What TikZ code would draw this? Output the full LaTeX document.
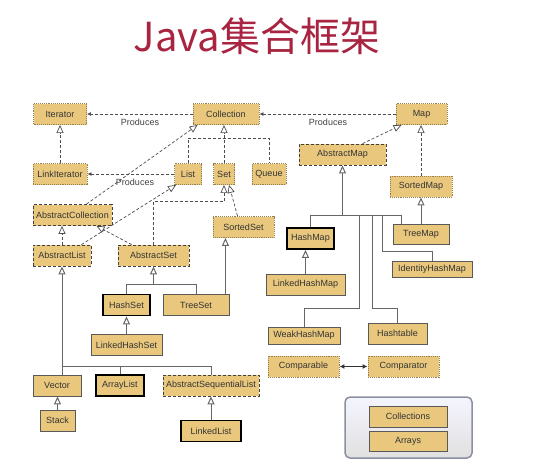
\documentclass[tikz,border=0pt]{standalone}
\usepackage{fontspec}
\setmainfont{Liberation Sans}
\newfontfamily\cjk{Noto Sans CJK SC}
\usetikzlibrary{arrows.meta,calc}
\definecolor{boxtan}{RGB}{233,200,125}
\definecolor{ifborder}{RGB}{150,128,80}
\definecolor{titlered}{RGB}{168,36,64}
\definecolor{utilborder}{RGB}{138,144,160}
\tikzset{
  box/.style={fill=boxtan, inner sep=0pt, font=\fontsize{9}{10}\selectfont, text=black!80, minimum height=21pt},
  iface/.style={box, draw=ifborder, densely dotted, line width=0.9pt},
  absbox/.style={box, draw=black!75, densely dashed, line width=0.8pt},
  conc/.style={box, draw=black!65, line width=0.9pt},
  strong/.style={box, draw=black, line width=1.8pt},
  dline/.style={draw=black!70, densely dashed, line width=0.7pt},
  sline/.style={draw=black!60, line width=1pt},
  inh/.style={-{Triangle[open,length=8pt,width=7pt]}},
  prod/.style={-{Latex[length=4pt,width=4pt]}},
  lbl/.style={font=\fontsize{9}{10}\selectfont, text=black!75, inner sep=0pt}
}
\begin{document}
\begin{tikzpicture}[x=1pt,y=-1pt]
\useasboundingbox (0,0) rectangle (533,475);
% title
\node[font=\cjk\fontsize{40}{44}\selectfont, text=titlered] (title) at (257,36) {Java集合框架};

% interfaces
\node[iface, minimum width=53pt] (Iterator) at (60,114) {Iterator};
\node[iface, minimum width=66pt] (Collection) at (226,114) {Collection};
\node[iface, minimum width=51pt] (Map) at (421.5,114) {Map};
\node[iface, minimum width=54pt] (LinkIterator) at (60,174) {LinkIterator};
\node[iface, minimum width=27pt] (List) at (188,174) {List};
\node[iface, minimum width=21pt] (Set) at (224,174) {Set};
\node[iface, minimum width=34pt] (Queue) at (269,174) {Queue};
\node[iface, minimum width=62pt] (SortedMap) at (421,186.5) {SortedMap};
\node[iface, minimum width=61pt] (SortedSet) at (243.5,227) {SortedSet};
\node[iface, minimum width=71pt] (Comparable) at (303.5,366.5) {Comparable};
\node[iface, minimum width=71pt] (Comparator) at (403.5,366.5) {Comparator};

% abstract classes
\node[absbox, minimum width=87pt] (AbstractMap) at (342.5,154.5) {AbstractMap};
\node[absbox, minimum width=79pt] (AbstractCollection) at (72.5,215) {AbstractCollection};
\node[absbox, minimum width=58pt] (AbstractList) at (62,255.5) {AbstractList};
\node[absbox, minimum width=71pt] (AbstractSet) at (153.5,255.5) {AbstractSet};
\node[absbox, minimum width=96pt] (AbstractSequentialList) at (211,385.5) {AbstractSequentialList};

% concrete classes
\node[strong, minimum width=47pt] (HashSet) at (126.5,305) {HashSet};
\node[conc, minimum width=66pt] (TreeSet) at (196,305) {TreeSet};
\node[conc, minimum width=71pt] (LinkedHashSet) at (126.5,345) {LinkedHashSet};
\node[conc, minimum width=48pt] (Vector) at (57,385.5) {Vector};
\node[strong, minimum width=48pt] (ArrayList) at (120,385.5) {ArrayList};
\node[conc, minimum width=35pt] (Stack) at (57.5,420.5) {Stack};
\node[strong, minimum width=60pt] (LinkedList) at (211,431) {LinkedList};
\node[strong, minimum width=47pt] (HashMap) at (310.5,238.5) {HashMap};
\node[conc, minimum width=56pt, minimum height=20pt] (TreeMap) at (421,234) {TreeMap};
\node[conc, minimum width=80pt, minimum height=16pt] (IdentityHashMap) at (432,269.5) {IdentityHashMap};
\node[conc, minimum width=79pt] (LinkedHashMap) at (305.5,284.5) {LinkedHashMap};
\node[conc, minimum width=72pt, minimum height=17pt] (WeakHashMap) at (304,335.5) {WeakHashMap};
\node[conc, minimum width=59pt] (Hashtable) at (397.5,333.5) {Hashtable};

% utility box
\node[draw=utilborder, line width=1.5pt, rounded corners=5pt, top color=white!96!blue, bottom color=black!12, minimum width=127pt, minimum height=61pt] (utilbox) at (408.5,427.5) {};
\node[conc, minimum width=78pt] (Collections) at (408,416.5) {Collections};
\node[conc, minimum width=78pt, minimum height=20pt] (Arrays) at (408,441) {Arrays};

% Produces
\draw[dline, prod] (Collection.west) -- (Iterator.east);
\node[lbl] (p1) at (140,122) {Produces};
\draw[dline, prod] (Map.west) -- (Collection.east);
\node[lbl] (p2) at (328,122) {Produces};
\draw[dline, prod] (List.west) -- (LinkIterator.east);
\node[lbl] (p3) at (135,182.5) {Produces};

% interface inheritance
\draw[dline, inh] (LinkIterator.north) -- (Iterator.south);
\coordinate (cbar) at ($(Collection.south)+(0,13)$);
\draw[dline] (List.north) |- (cbar) -| (Queue.north);
\draw[dline, inh] (Set.north) -- (Set.north |- Collection.south);
\draw[dline, inh] ($(AbstractCollection.north)+(14,0)$) -- ($(Collection.south west)+(5,0)$);
\draw[dline, inh] ($(AbstractList.north east)+(-10,0)$) -- ($(List.south west)+(2,0)$);
\draw[dline, inh] (AbstractList.north) -- (AbstractList.north |- AbstractCollection.south);
\draw[dline, inh] ($(AbstractSet.north west)+(14,0)$) -- ($(AbstractCollection.south)+(24,0)$);
\coordinate (sbar) at ($(Set.south)+(0,16)$);
\draw[dline] (AbstractSet.north) |- (sbar);
\draw[dline, inh] (sbar) -- (Set.south);
\draw[dline, inh] ($(SortedSet.north west)+(25,0)$) -- ($(Set.south)+(5,0)$);
\draw[sline, inh] ($(TreeSet.north east)+(-4,0)$) coordinate (ts) -- (ts |- SortedSet.south);

% set classes
\coordinate (hsbar) at ($(AbstractSet.south)+(0,18)$);
\draw[sline] (HashSet.north) |- (hsbar) -| (TreeSet.north);
\draw[sline, inh] (hsbar) -- (AbstractSet.south);
\draw[sline, inh] (LinkedHashSet.north) -- (HashSet.south);

% list classes
\coordinate (lbar) at ($(AbstractList.south)+(0,100)$);
\draw[sline, inh] (lbar) -- (AbstractList.south);
\draw[sline] (Vector.north -| lbar) -- (lbar) -| (ArrayList.north);
\draw[sline] (lbar) -| (AbstractSequentialList.north);
\draw[sline, inh] (Stack.north) -- (Stack.north |- Vector.south);
\draw[sline, inh] (LinkedList.north) -- (AbstractSequentialList.south);

% map
\draw[dline, inh] ($(AbstractMap.north)+(20,0)$) -- ($(Map.south west)+(6,0)$);
\draw[dline, inh] (SortedMap.north) -- (SortedMap.north |- Map.south);
\draw[sline, inh] (TreeMap.north) -- (TreeMap.north |- SortedMap.south);
\coordinate (mbar) at ($(AbstractMap.south)+(0,50)$);
\draw[sline, inh] (mbar) -- (AbstractMap.south);
\draw[sline] (HashMap.north) |- (mbar);
\draw[sline] ($(TreeMap.north west)+(9,0)$) |- (mbar);
\coordinate (wk) at ($(mbar)+(17,93)$);
\coordinate (ht) at ($(mbar)+(30,93)$);
\coordinate (ih) at ($(mbar)+(40,36)$);
\draw[sline] (WeakHashMap.north) |- (wk) |- (mbar);
\draw[sline] (Hashtable.north) |- (ht) |- (mbar);
\draw[sline] (IdentityHashMap.north) |- (ih) |- (mbar);
\draw[sline, inh] (LinkedHashMap.north) -- (LinkedHashMap.north |- HashMap.south);

% comparable
\draw[sline, black!80, {Latex[length=5pt,width=5pt]}-{Latex[length=5pt,width=5pt]}] (Comparable.east) -- (Comparator.west);
\end{tikzpicture}
\end{document}
